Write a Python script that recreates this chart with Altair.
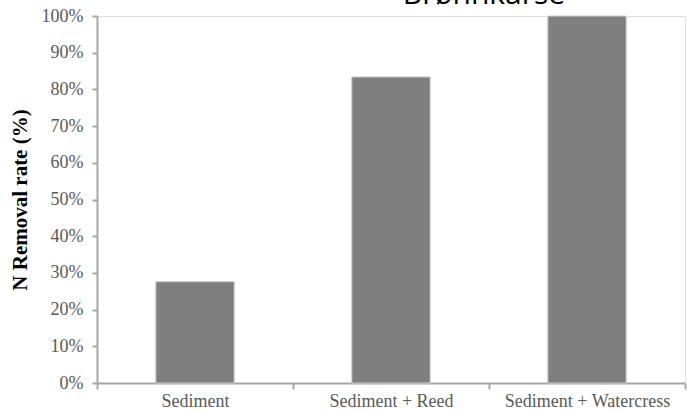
import altair as alt
import pandas as pd

categories = ["Sediment", "Sediment + Reed", "Sediment + Watercress"]
values = [0.276, 0.834, 1.0]
title_text = "Brønnkarse"

df = pd.DataFrame({"cat": categories, "val": values})

bars = alt.Chart(df).mark_bar(
    color="#7f7f7f", stroke="#cfcfcf", strokeWidth=1, width={"band": 0.4}
).encode(
    x=alt.X("cat:N", sort=categories, title=None,
            scale=alt.Scale(paddingInner=0, paddingOuter=0),
            axis=alt.Axis(labelAngle=0, tickBand="extent", domainColor="#a6a6a6",
                          domainWidth=2, tickColor="#a6a6a6", tickWidth=2, tickSize=6,
                          labelFont="Liberation Serif", labelFontSize=18,
                          labelColor="#595959", labelPadding=3)),
    y=alt.Y("val:Q", title="N Removal rate (%)",
            scale=alt.Scale(domain=[0, 1], nice=False),
            axis=alt.Axis(format=".0%", values=[i / 10 for i in range(11)],
                          grid=False, domainColor="#a6a6a6", domainWidth=2,
                          tickColor="#a6a6a6", tickWidth=2, tickSize=5,
                          labelFont="Liberation Serif", labelFontSize=18,
                          labelColor="#595959", labelPadding=9,
                          titleFont="Liberation Serif", titleFontSize=21,
                          titleFontWeight="bold", titleColor="#000000",
                          titlePadding=11)),
)

title_df = pd.DataFrame({"t": [title_text]})
title = alt.Chart(title_df).mark_text(
    font="Open Sans", fontSize=30, color="#000000", baseline="alphabetic", align="center"
).encode(
    text="t:N", x=alt.value(387), y=alt.value(-12)
)

chart = alt.layer(bars, title).properties(
    width=588, height=367,
    autosize=alt.AutoSizeParams(type="none"),
    padding={"left": 97, "top": 16, "right": 9, "bottom": 29},
).configure_view(stroke=None).configure(background="white")

chart.save("out.html", embed_options={"renderer": "svg", "actions": False})
